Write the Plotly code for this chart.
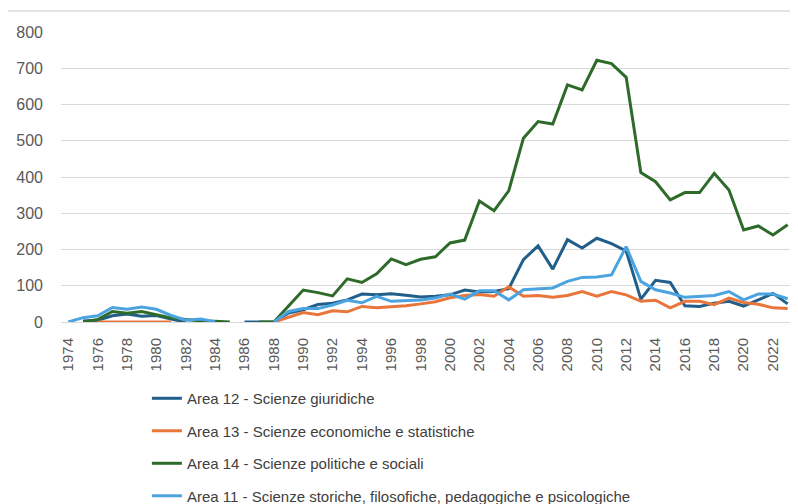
import plotly.graph_objects as go

years = [str(y) for y in range(1974, 2024)]

area12 = [None, 3, 5, 17, 22, 16, 18, 8, 0, None, None, None, 0, 0, 0,
          25, 34, 48, 52, 61, 77, 75, 78, 74, 69, 71, 75, 88, 83, 84, 92,
          172, 210, 146, 227, 204, 231, 216, 196, 63, 115, 109, 45, 43, 52,
          57, 44, 61, 79, 50]
area13 = [None, None, 0, 0, 0, 0, 0, 0, None, None, None, None, None, None, 0,
          14, 26, 20, 31, 28, 43, 39, 41, 45, 50, 56, 67, 73, 76, 71, 97,
          71, 73, 68, 73, 84, 71, 84, 75, 57, 60, 39, 57, 57, 48,
          66, 54, 49, 39, 37]
area14 = [None, 0, 7, 29, 24, 29, 20, 11, 7, 3, 2, 0, None, 0, 0,
          44, 88, 81, 72, 119, 109, 133, 174, 158, 173, 180, 218, 226, 334, 307, 362,
          507, 553, 546, 654, 640, 722, 713, 675, 412, 387, 337, 357, 357, 410,
          364, 254, 265, 240, 268]
area11 = [0, 12, 17, 40, 35, 41, 35, 18, 5, 8, 1, None, None, None, 0,
          29, 37, 37, 47, 60, 53, 71, 57, 58, 61, 66, 77, 63, 86, 86, 61,
          89, 92, 94, 112, 123, 124, 130, 208, 112, 89, 80, 68, 71, 73,
          84, 61, 77, 77, 64]

names = ["Area 12 - Scienze giuridiche",
         "Area 13 - Scienze economiche e statistiche",
         "Area 14 - Scienze politiche e sociali",
         "Area 11 - Scienze storiche, filosofiche, pedagogiche e psicologiche"]
colors = ["#215E8A", "#E8763A", "#2E6B2A", "#4BA3DF"]
series = [area12, area13, area14, area11]

tick_years = [str(y) for y in range(1974, 2024, 2)]
y_ticks = [0, 100, 200, 300, 400, 500, 600, 700, 800]

fig = go.Figure()
for i, (name, vals, col) in enumerate(zip(names, series, colors)):
    fig.add_trace(go.Scatter(
        x=years, y=vals, name=name, mode="lines",
        line=dict(color=col, width=3),
        connectgaps=False, legendgroup=f"g{i}",
    ))

fig.update_layout(
    width=798, height=504,
    margin=dict(l=53, r=11, t=24, b=190, autoexpand=False),
    paper_bgcolor="white", plot_bgcolor="white",
    font=dict(family="Liberation Sans, Arial, sans-serif", color="#595959"),
    showlegend=True,
    legend=dict(
        orientation="v", x=0.117, xanchor="left", y=-0.207, yanchor="top",
        font=dict(size=15, color="#404040"),
        tracegroupgap=10, bgcolor="rgba(0,0,0,0)",
    ),
    xaxis=dict(
        type="category", categoryorder="array", categoryarray=years,
        range=[-0.5, 49.5], tickmode="array", tickvals=tick_years,
        ticktext=tick_years, tickangle=-90, tickfont=dict(size=15, color="#595959"),
        showgrid=False, showline=False, zeroline=False, ticks="",
        ticklabelstandoff=12,
    ),
    yaxis=dict(
        range=[0, 800], tickvals=y_ticks, showgrid=True, gridcolor="#D9D9D9",
        gridwidth=1, zeroline=True, zerolinecolor="#D9D9D9", zerolinewidth=1,
        tickfont=dict(size=16, color="#595959"), ticks="", ticklabelstandoff=17,
        showline=False,
    ),
    shapes=[dict(type="line", xref="paper", yref="paper",
                 x0=-0.0763, x1=1.004, y0=1.0724, y1=1.0724,
                 line=dict(color="#C8C8C8", width=1))],
)

fig.write_html("out.html")
